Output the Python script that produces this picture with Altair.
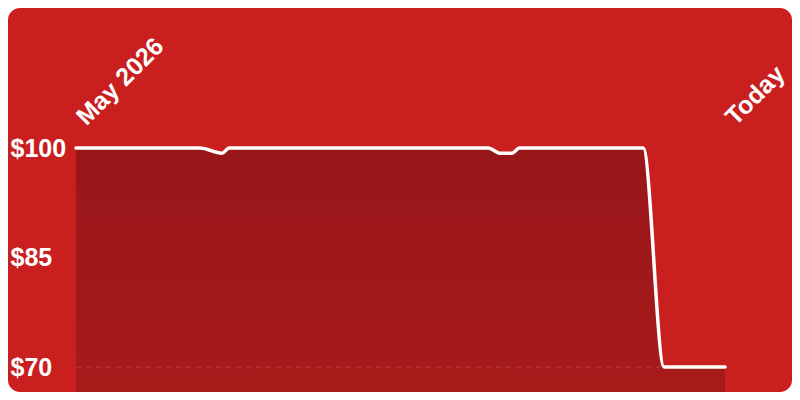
import altair as alt
import pandas as pd

# Data
day = [0, 19.1, 22.5, 23.6, 63.5, 65.3, 67.2, 68.3, 87.4, 90.6, 100]
price = [100, 100, 99.3, 100, 100, 99.3, 99.3, 100, 100, 70, 70]
x_ticks = [0, 100]
x_labels = ["May 2026", "Today"]
y_ticks = [70, 85, 100]
ref_level = [70]

X_DOMAIN = [-10.48, 110.32]
Y_DOMAIN = [66.58, 119.18]

df = pd.DataFrame({"day": day, "price": price})
ref_df = pd.DataFrame({"level": ref_level, "x0": [0], "x1": [100]})

label_expr = "datum.value == %s ? '%s' : '%s'" % (x_ticks[0], x_labels[0], x_labels[1])

x_enc = alt.X(
    "day:Q",
    scale=alt.Scale(domain=X_DOMAIN, nice=False, zero=False),
    axis=alt.Axis(
        orient="top", values=x_ticks, labelExpr=label_expr, title=None,
        domain=False, ticks=False, tickSize=0, grid=False, labelPadding=0,
        labelAngle=315, labelAlign="left", labelBaseline="alphabetic",
        labelOverlap=False, labelFlush=False, labelBound=False,
        labelFont="Liberation Sans", labelFontWeight="bold", labelFontSize=25,
        labelColor="#ffffff", offset=-118, labelOffset=10,
    ),
)
y_enc = alt.Y(
    "price:Q",
    scale=alt.Scale(domain=Y_DOMAIN, nice=False, zero=False),
    axis=alt.Axis(
        orient="left", values=y_ticks, labelExpr="'$' + datum.value", title=None,
        domain=False, ticks=False, tickSize=0, grid=False, labelPadding=0,
        labelAlign="left", labelBaseline="middle",
        labelFont="Liberation Sans", labelFontWeight="bold", labelFontSize=25,
        labelColor="#ffffff", offset=-2,
    ),
)

area = alt.Chart(df).mark_area(
    interpolate="monotone",
    color=alt.Gradient(
        gradient="linear",
        stops=[alt.GradientStop(color="#981619", offset=0),
               alt.GradientStop(color="#a71a1a", offset=1)],
        x1=0, x2=0, y1=0, y2=1,
    ),
).encode(x=x_enc, y=y_enc, y2=alt.datum(Y_DOMAIN[0]))

rule = alt.Chart(ref_df).mark_rule(
    color="#ffffff", opacity=0.18, strokeDash=[5, 5], strokeWidth=1
).encode(x="x0:Q", x2="x1:Q", y="level:Q")

line = alt.Chart(df).mark_line(
    interpolate="monotone", color="#ffffff", strokeWidth=3.5, strokeCap="round"
).encode(x="day:Q", y="price:Q")

chart = alt.layer(area, rule, line).properties(
    width=784, height=384, padding=0,
    autosize=alt.AutoSizeParams(type="none"),
).configure(background="#ffffff").configure_view(
    fill="#c91f1f", cornerRadius=12, stroke="transparent", strokeWidth=0
)

chart.save("out.html", embed_options={"renderer": "svg", "actions": False})
